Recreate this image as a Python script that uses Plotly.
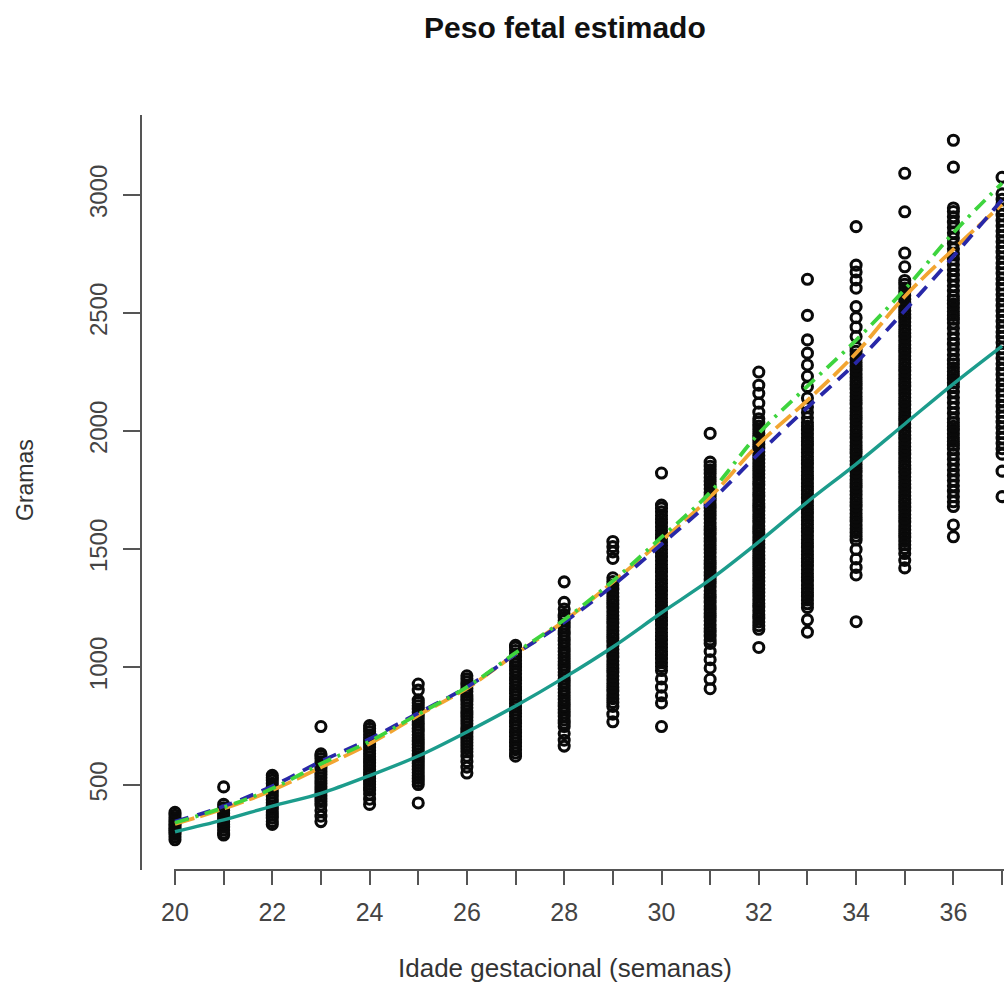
import plotly.graph_objects as go

# ---------------- data ----------------
weeks = list(range(20, 38))

w20 = [268, 280, 291, 300, 309, 318, 326, 335, 344, 352, 361, 372, 384]
w21 = [288, 297, 310, 322, 333, 345, 356, 368, 380, 392, 404, 418, 492]
w22 = [333, 345, 360, 372, 386, 398, 411, 425, 438, 452, 466, 480, 493, 507, 520, 531, 541]
w23 = [345, 368, 392, 415, 430, 442, 455, 468, 481, 493, 506, 518, 531, 545, 558, 572, 585,
       598, 612, 624, 632, 748]
w24 = [418, 440, 462, 478, 490, 503, 515, 528, 541, 553, 566, 580, 593, 606, 620, 633, 646,
       660, 673, 686, 700, 713, 727, 740, 752]
w25 = [424, 502, 515, 528, 540, 553, 566, 580, 592, 605, 618, 632, 646, 659, 672, 686, 700,
       713, 727, 740, 754, 768, 781, 795, 808, 822, 836, 849, 860, 902, 928]
w26 = [551, 576, 600, 622, 641, 654, 667, 680, 693, 706, 720, 733, 746, 760, 773, 787, 800,
       814, 827, 841, 855, 868, 882, 896, 909, 923, 937, 950, 963]
w27 = [622, 636, 650, 664, 678, 692, 706, 720, 734, 748, 762, 776, 790, 804, 818, 832, 846,
       860, 874, 888, 902, 916, 930, 944, 958, 972, 986, 1000, 1014, 1028, 1042, 1056, 1070,
       1084, 1092]
w28 = [665, 690, 718, 748, 762, 776, 791, 805, 820, 834, 849, 863, 878, 892, 907, 921, 936,
       950, 965, 979, 994, 1008, 1023, 1037, 1052, 1066, 1081, 1095, 1110, 1124, 1139, 1153,
       1168, 1182, 1197, 1211, 1222, 1246, 1274, 1361]
w29 = [768, 800, 833, 850, 866, 882, 898, 914, 930, 946, 962, 978, 994, 1010, 1026, 1042,
       1058, 1074, 1090, 1106, 1122, 1138, 1154, 1170, 1186, 1202, 1218, 1234, 1250, 1266,
       1282, 1298, 1314, 1330, 1346, 1362, 1378, 1460, 1488, 1510, 1532]
w30 = [748, 848, 878, 915, 950, 985, 1002, 1018, 1034, 1050, 1066, 1082, 1098, 1114, 1130,
       1146, 1162, 1178, 1194, 1210, 1226, 1242, 1258, 1274, 1290, 1306, 1322, 1338, 1354,
       1370, 1386, 1402, 1418, 1434, 1450, 1466, 1482, 1498, 1514, 1530, 1546, 1562, 1578,
       1594, 1610, 1626, 1642, 1658, 1674, 1686, 1822]
w31 = [908, 948, 996, 1031, 1066, 1100, 1115, 1131, 1148, 1163, 1179, 1196, 1211, 1227, 1244,
       1259, 1275, 1292, 1307, 1323, 1340, 1355, 1371, 1388, 1403, 1419, 1436, 1451, 1467,
       1484, 1499, 1515, 1532, 1547, 1563, 1580, 1595, 1611, 1628, 1643, 1659, 1676, 1691,
       1707, 1724, 1739, 1755, 1772, 1787, 1803, 1820, 1836, 1851, 1868, 1990]
w32 = [1083, 1160, 1175, 1191, 1207, 1222, 1238, 1254, 1269, 1285, 1301, 1316, 1332, 1348,
       1363, 1379, 1395, 1410, 1426, 1442, 1457, 1473, 1489, 1504, 1520, 1536, 1551, 1567,
       1583, 1598, 1614, 1630, 1645, 1661, 1677, 1692, 1708, 1724, 1739, 1755, 1771, 1786,
       1802, 1818, 1833, 1849, 1865, 1880, 1896, 1912, 1927, 1943, 1959, 1974, 1990, 2006,
       2021, 2037, 2052, 2080, 2118, 2160, 2194, 2250]
w33 = [1148, 1200, 1252, 1268, 1284, 1300, 1316, 1332, 1348, 1364, 1380, 1396, 1412, 1428,
       1444, 1460, 1476, 1492, 1508, 1524, 1540, 1556, 1572, 1588, 1604, 1620, 1636, 1652,
       1668, 1684, 1700, 1716, 1732, 1748, 1764, 1780, 1796, 1812, 1828, 1844, 1860, 1876,
       1892, 1908, 1924, 1940, 1956, 1972, 1988, 2004, 2020, 2036, 2056, 2078, 2102, 2140,
       2188, 2232, 2280, 2330, 2386, 2490, 2643]
w34 = [1192, 1390, 1422, 1458, 1498, 1538, 1554, 1570, 1586, 1602, 1618, 1634, 1650, 1666,
       1682, 1698, 1714, 1730, 1746, 1762, 1778, 1794, 1810, 1826, 1842, 1858, 1874, 1890,
       1906, 1922, 1938, 1954, 1970, 1986, 2002, 2018, 2034, 2050, 2066, 2082, 2098, 2114,
       2130, 2146, 2162, 2178, 2194, 2210, 2226, 2242, 2258, 2274, 2290, 2306, 2322, 2338,
       2354, 2400, 2440, 2480, 2527, 2605, 2640, 2674, 2703, 2866]
w35 = [1420, 1452, 1481, 1502, 1518, 1534, 1550, 1566, 1582, 1598, 1614, 1630, 1646, 1662,
       1678, 1694, 1710, 1726, 1742, 1758, 1774, 1790, 1806, 1822, 1838, 1854, 1870, 1886,
       1902, 1918, 1934, 1950, 1966, 1982, 1998, 2014, 2030, 2046, 2062, 2078, 2094, 2110,
       2126, 2142, 2158, 2174, 2190, 2206, 2222, 2238, 2254, 2270, 2286, 2302, 2318, 2334,
       2350, 2366, 2382, 2398, 2414, 2430, 2446, 2462, 2478, 2494, 2510, 2526, 2542, 2558,
       2574, 2590, 2606, 2622, 2638, 2696, 2754, 2929, 3092]
w36 = [1552, 1602, 1680, 1700, 1722, 1745, 1768, 1790, 1812, 1835, 1858, 1880, 1902, 1925,
       1940, 1956, 1972, 1988, 2004, 2020, 2036, 2052, 2075, 2098, 2120, 2142, 2165, 2188,
       2204, 2220, 2236, 2252, 2268, 2284, 2300, 2323, 2345, 2368, 2390, 2412, 2435, 2458,
       2474, 2490, 2506, 2522, 2538, 2554, 2570, 2593, 2615, 2638, 2660, 2683, 2705, 2728,
       2750, 2772, 2795, 2818, 2840, 2862, 2885, 2908, 2930, 2945, 3118, 3232]
w37 = [1722, 1830, 1902, 1925, 1948, 1970, 1992, 2015, 2038, 2060, 2082, 2105, 2128, 2150,
       2172, 2195, 2218, 2240, 2262, 2285, 2308, 2330, 2352, 2375, 2398, 2420, 2442, 2465,
       2488, 2510, 2532, 2555, 2578, 2600, 2622, 2645, 2668, 2690, 2712, 2735, 2758, 2780,
       2802, 2825, 2848, 2870, 2892, 2915, 2938, 2960, 2982, 3005, 3075]

obs_by_week = [w20, w21, w22, w23, w24, w25, w26, w27, w28, w29,
               w30, w31, w32, w33, w34, w35, w36, w37]

# reference curves (grams per week 20..37)
curve_teal = [302, 352, 411, 465, 540, 623, 725, 835, 955, 1085, 1230, 1370, 1530, 1700,
              1860, 2030, 2200, 2360]
curve_orange = [335, 400, 478, 575, 675, 795, 910, 1055, 1195, 1360, 1535, 1720, 1945, 2130,
                2330, 2570, 2770, 2960]
curve_blue = [345, 410, 495, 600, 695, 805, 915, 1055, 1190, 1345, 1520, 1700, 1905, 2100,
              2290, 2510, 2740, 2980]
curve_green = [340, 405, 485, 590, 685, 800, 915, 1060, 1200, 1365, 1550, 1740, 1990, 2190,
               2385, 2600, 2840, 3050]

y_ticks = [500, 1000, 1500, 2000, 2500, 3000]
x_ticks = weeks
x_ticktext = [str(w) if w % 2 == 0 and w <= 36 else "" for w in weeks]

# ---------------- figure ----------------
FONT = "Liberation Sans, Arial, Helvetica, sans-serif"
AXIS_GREY = "#555555"
TEXT_GREY = "#444444"

px_x, px_y = [], []
for w, vals in zip(weeks, obs_by_week):
    px_x.extend([w] * len(vals))
    px_y.extend(vals)

fig = go.Figure()
fig.add_trace(go.Scatter(
    x=px_x, y=px_y, mode="markers",
    marker=dict(symbol="circle-open", size=10, color="#0a0a0a",
                line=dict(width=3.1, color="#0a0a0a")),
    showlegend=False, hoverinfo="skip"))

fig.add_trace(go.Scatter(x=weeks, y=curve_teal, mode="lines", line_shape="spline",
                         line=dict(color="#1c9c8c", width=3.4), showlegend=False))
fig.add_trace(go.Scatter(x=weeks, y=curve_orange, mode="lines", line_shape="spline",
                         line=dict(color="#f2a531", width=3.8, dash="20px,6px"),
                         showlegend=False))
fig.add_trace(go.Scatter(x=weeks, y=curve_blue, mode="lines", line_shape="spline",
                         line=dict(color="#2828a8", width=3.8, dash="14px,9px"),
                         showlegend=False))
fig.add_trace(go.Scatter(x=weeks, y=curve_green, mode="lines", line_shape="spline",
                         line=dict(color="#3ed43e", width=3.8, dash="14px,7px,3px,7px"),
                         showlegend=False))

L, R, T, B = 142, 0, 115, 115
W, H = 1004, 985
pw, ph = W - L - R, H - T - B

def px_to_paper_x(px):
    return (px - L) / pw

def px_to_paper_y(py):
    return (H - B - py) / ph

fig.update_layout(
    width=W, height=H,
    margin=dict(l=L, r=R, t=T, b=B, pad=0),
    paper_bgcolor="white", plot_bgcolor="white",
    font=dict(family=FONT, color=TEXT_GREY),
    showlegend=False,
    xaxis=dict(range=[19.322, 37.04], showgrid=False, zeroline=False, showline=False,
               tickmode="array", tickvals=x_ticks, ticktext=x_ticktext,
               ticks="outside", ticklen=14, tickwidth=2, tickcolor=AXIS_GREY,
               tickfont=dict(size=25, color=TEXT_GREY, family=FONT),
               ticklabelstandoff=6),
    yaxis=dict(range=[140, 3339], showgrid=False, zeroline=False, showline=True,
               linecolor=AXIS_GREY, linewidth=2,
               tickmode="array", tickvals=y_ticks,
               ticks="outside", ticklen=17, tickwidth=2, tickcolor=AXIS_GREY,
               tickangle=-90, tickfont=dict(size=24, color=TEXT_GREY, family=FONT),
               ticklabelstandoff=6),
    shapes=[dict(type="line", xref="paper", yref="paper",
                 x0=px_to_paper_x(174), x1=1.0, y0=0, y1=0,
                 line=dict(color=AXIS_GREY, width=2))],
    annotations=[
        dict(text="<b>Peso fetal estimado</b>", xref="paper", yref="paper",
             x=px_to_paper_x(565), y=px_to_paper_y(28), showarrow=False,
             xanchor="center", yanchor="middle",
             font=dict(size=30, color="#111111", family=FONT)),
        dict(text="Idade gestacional (semanas)", xref="paper", yref="paper",
             x=px_to_paper_x(565), y=px_to_paper_y(968), showarrow=False,
             xanchor="center", yanchor="middle",
             font=dict(size=26, color="#333333", family=FONT)),
        dict(text="Gramas", xref="paper", yref="paper", textangle=-90,
             x=px_to_paper_x(25), y=px_to_paper_y(480), showarrow=False,
             xanchor="center", yanchor="middle",
             font=dict(size=23, color="#333333", family=FONT)),
    ],
)

fig.write_html("out.html", config={"displayModeBar": False})
